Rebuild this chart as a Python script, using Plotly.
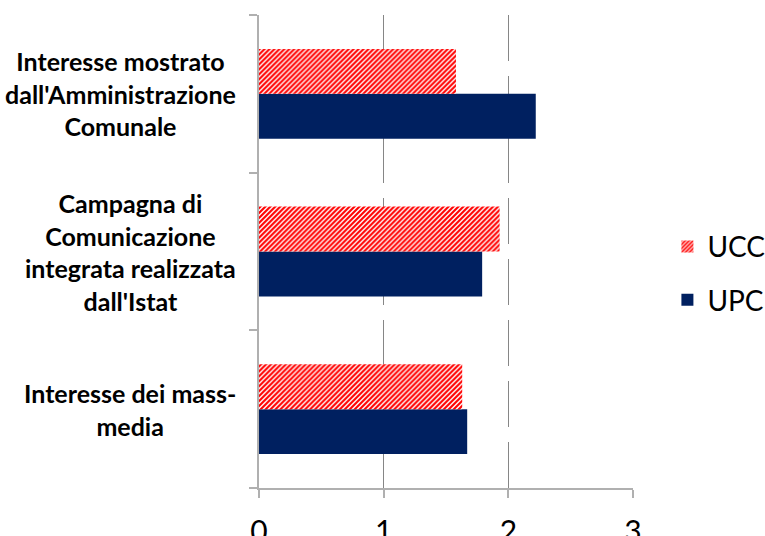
import plotly.graph_objects as go

categories = [
    "Interesse dei mass-<br>media",
    "Campagna di<br>Comunicazione<br>integrata realizzata<br>dall'Istat",
    "Interesse mostrato<br>dall'Amministrazione<br>Comunale",
]
ucc = [1.63, 1.93, 1.58]
upc = [1.67, 1.79, 2.22]
x_ticks = [0, 1, 2, 3]

cat_keys = ["c0", "c1", "c2"]

fig = go.Figure()
fig.add_trace(go.Bar(
    y=cat_keys, x=upc, name="UPC", orientation="h",
    marker=dict(color="#002060", line=dict(width=0)),
    legendgroup="upc", legendrank=2,
))
fig.add_trace(go.Bar(
    y=cat_keys, x=ucc, name="UCC", orientation="h",
    marker=dict(color="#ff0000", line=dict(width=0),
                pattern=dict(shape="/", fgcolor="#ff0000", bgcolor="#ffffff",
                             fgopacity=1, size=3.5, solidity=0.6)),
    legendgroup="ucc", legendrank=1,
))

for key, label in zip(cat_keys, categories):
    fig.add_annotation(
        x=-21 / 374, xref="paper", y=key, yref="y",
        text="<b>" + label + "</b>", showarrow=False,
        xanchor="right", yanchor="middle", align="center",
        font=dict(family="Lato", size=25, color="#000000"),
    )

fig.update_layout(
    width=765, height=536,
    margin=dict(l=259, r=132, t=15, b=48, autoexpand=False),
    paper_bgcolor="white", plot_bgcolor="white",
    barmode="group", bargap=0.43, bargroupgap=0,
    showlegend=True,
    legend=dict(
        x=1.092, xanchor="left", y=0.454, yanchor="middle",
        traceorder="grouped", tracegroupgap=14,
        font=dict(family="Lato", size=28, color="#000000"),
        bgcolor="rgba(0,0,0,0)",
    ),
    xaxis=dict(
        range=[0, 3], tickvals=x_ticks, ticktext=[str(v) for v in x_ticks],
        showgrid=True, gridcolor="#868686", gridwidth=1, griddash="46px,15px",
        zeroline=False, showline=True, linecolor="#b0b0b0", linewidth=1.5,
        ticks="outside", ticklen=8, tickcolor="#b0b0b0", tickwidth=1.5,
        tickfont=dict(family="Lato", size=30, color="#000000"),
        ticklabelstandoff=8, automargin=False,
        fixedrange=True,
    ),
    yaxis=dict(
        type="category", categoryorder="array", categoryarray=cat_keys,
        showticklabels=False, showgrid=False, zeroline=False,
        showline=True, linecolor="#b0b0b0", linewidth=1.5,
        ticks="outside", ticklen=8, tickcolor="#b0b0b0", tickwidth=1.5,
        tickson="boundaries", automargin=False,
        fixedrange=True,
    ),
)

fig.write_html(
    "out.html",
    config={"displayModeBar": False},
    post_script="document.body.style.margin='0';document.body.style.overflow='hidden';",
)
